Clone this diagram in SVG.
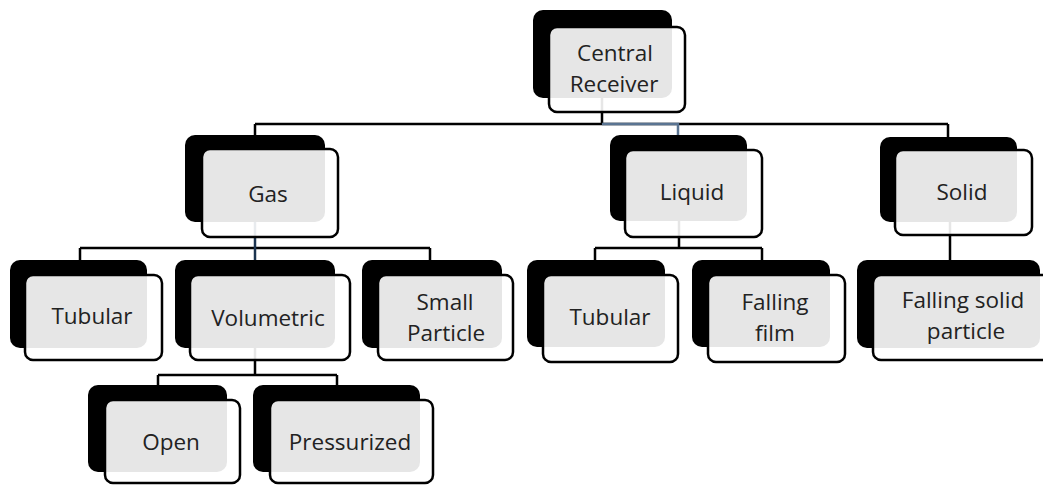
<svg xmlns="http://www.w3.org/2000/svg" width="1043" height="486" viewBox="0 0 1043 486">
<style>
.back{fill:#000}
.front{fill:#fff;fill-opacity:0.9;stroke:#000;stroke-width:2.5}
.lbl{font-family:"Open Sans","Noto Sans","Liberation Sans",sans-serif;font-size:22.5px;fill:#222;text-anchor:middle}
.ln{fill:none;stroke:#000;stroke-width:2.5}
.ln2{fill:none;stroke:#5a7492;stroke-width:2.5}
.ln3{fill:none;stroke:#1c3450;stroke-width:2.5}
</style>
<rect width="1043" height="486" fill="#fff"/>
<g id="connectors">
<path class="ln" d="M255,124 H948 M255,124 V170 M948,124 V170 M602,60 V124"/>
<path class="ln" d="M80,248 H430 M80,248 V300 M430,248 V300"/>
<path class="ln3" d="M255,190 V300"/>
<path class="ln" d="M595,248 H762 M595,248 V300 M762,248 V300 M679,190 V248"/>
<path class="ln" d="M950,190 V300"/>
<path class="ln" d="M158,375 H337 M158,375 V420 M337,375 V420 M255,320 V375"/>
<path class="ln2" d="M602,124 H678 V170"/>
</g>
<g id="central">
<rect class="back" x="533" y="10" width="139" height="88" rx="10"/>
<rect class="front" x="549" y="27" width="136" height="85" rx="8"/>
<text class="lbl" x="615" y="61">Central</text>
<text class="lbl" x="614" y="92">Receiver</text>
</g>
<g id="gas">
<rect class="back" x="185" y="135" width="140" height="87" rx="10"/>
<rect class="front" x="202" y="149" width="136" height="88" rx="8"/>
<text class="lbl" x="268" y="202">Gas</text>
</g>
<g id="liquid">
<rect class="back" x="610" y="135" width="137" height="86" rx="10"/>
<rect class="front" x="625" y="150" width="137" height="87" rx="8"/>
<text class="lbl" x="692" y="200">Liquid</text>
</g>
<g id="solid">
<rect class="back" x="880" y="137" width="137" height="85" rx="10"/>
<rect class="front" x="895" y="150" width="137" height="85" rx="8"/>
<text class="lbl" x="962" y="200">Solid</text>
</g>
<g id="gas-tubular">
<rect class="back" x="10" y="260" width="137" height="88" rx="10"/>
<rect class="front" x="25" y="275" width="137" height="85" rx="8"/>
<text class="lbl" x="92" y="324">Tubular</text>
</g>
<g id="volumetric">
<rect class="back" x="175" y="260" width="160" height="88" rx="10"/>
<rect class="front" x="190" y="275" width="160" height="85" rx="8"/>
<text class="lbl" x="268" y="326">Volumetric</text>
</g>
<g id="small-particle">
<rect class="back" x="362" y="260" width="140" height="88" rx="10"/>
<rect class="front" x="378" y="275" width="135" height="85" rx="8"/>
<text class="lbl" x="445" y="310">Small</text>
<text class="lbl" x="446" y="341">Particle</text>
</g>
<g id="liquid-tubular">
<rect class="back" x="527" y="260" width="138" height="87" rx="10"/>
<rect class="front" x="543" y="275" width="135" height="87" rx="8"/>
<text class="lbl" x="610" y="325">Tubular</text>
</g>
<g id="falling-film">
<rect class="back" x="692" y="260" width="138" height="87" rx="10"/>
<rect class="front" x="708" y="275" width="137" height="87" rx="8"/>
<text class="lbl" x="775" y="310">Falling</text>
<text class="lbl" x="775" y="341">film</text>
</g>
<g id="falling-solid-particle">
<rect class="back" x="857" y="260" width="183" height="88" rx="10"/>
<rect class="front" x="873" y="275" width="180" height="85" rx="8"/>
<text class="lbl" x="963" y="308">Falling solid</text>
<text class="lbl" x="966" y="339">particle</text>
</g>
<g id="open">
<rect class="back" x="88" y="385" width="139" height="87" rx="10"/>
<rect class="front" x="105" y="400" width="135" height="83" rx="8"/>
<text class="lbl" x="171" y="450">Open</text>
</g>
<g id="pressurized">
<rect class="back" x="253" y="385" width="167" height="87" rx="10"/>
<rect class="front" x="270" y="400" width="163" height="83" rx="8"/>
<text class="lbl" x="350" y="450">Pressurized</text>
</g>
</svg>
